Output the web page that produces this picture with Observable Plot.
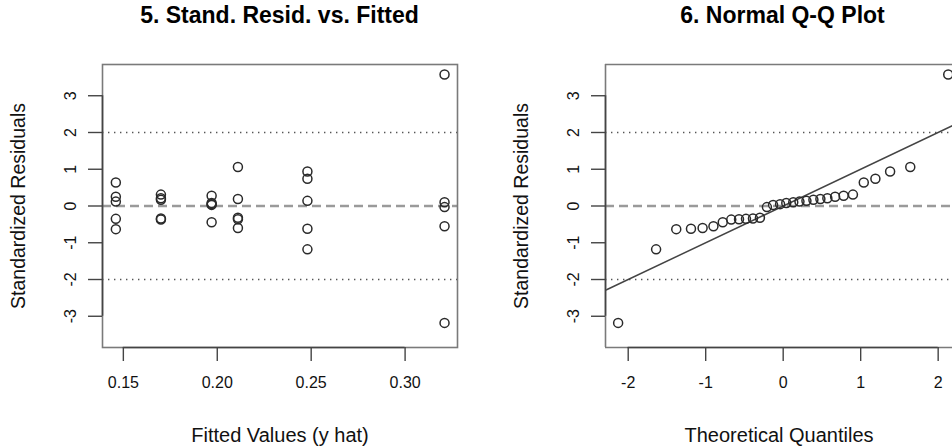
<!DOCTYPE html>
<html><head><meta charset="utf-8">
<script src="https://cdn.jsdelivr.net/npm/d3@7"></script>
<script src="https://cdn.jsdelivr.net/npm/@observablehq/plot@0.6"></script>
<style>
html,body{margin:0;padding:0;background:#fff;overflow:hidden;}
#wrap{display:flex;width:952px;height:447px;overflow:hidden;font-family:"Liberation Sans",Arial,Helvetica,sans-serif;}
.col{position:relative;width:476px;height:447px;overflow:hidden;flex:none;}
.title{position:absolute;top:0;height:30px;line-height:30px;font-weight:bold;font-size:23px;color:#000;white-space:nowrap;transform:translateX(-50%);}
.col svg{position:absolute;left:0;top:30px;}
</style>
</head><body>
<div id="wrap">
  <div class="col" id="left"><div class="title" style="left:279.5px">5. Stand. Resid. vs. Fitted</div></div>
  <div class="col" id="right"><div class="title" style="left:306.5px">6. Normal Q-Q Plot</div></div>
</div>
<script>
// ---- data ----
const fittedValues = [
  0.146,0.146,0.146,0.146,0.146,
  0.170,0.170,0.170,0.170,0.170,
  0.197,0.197,0.197,0.197,0.197,
  0.211,0.211,0.211,0.211,0.211,
  0.248,0.248,0.248,0.248,0.248,
  0.321,0.321,0.321,0.321,0.321
];
const stdResiduals = [
  0.64, 0.25, 0.12, -0.35, -0.63,
  0.31, 0.21, 0.17, -0.34, -0.37,
  0.28, 0.08, 0.05, 0.03, -0.44,
  1.06, 0.19, -0.32, -0.36, -0.60,
  0.94, 0.74, 0.14, -0.62, -1.18,
  3.58, 0.10, -0.03, -0.55, -3.18
];
const theoreticalQuantiles = [
  -2.13,-1.64,-1.38,-1.19,-1.04,-0.90,-0.78,-0.67,-0.57,-0.48,
  -0.39,-0.30,-0.21,-0.13,-0.04, 0.04, 0.13, 0.21, 0.30, 0.39,
   0.48, 0.57, 0.67, 0.78, 0.90, 1.04, 1.19, 1.38, 1.64, 2.13
];
const fittedTicks = [0.15, 0.20, 0.25, 0.30];
const residTicks = [-3, -2, -1, 0, 1, 2, 3];
const quantileTicks = [-2, -1, 0, 1, 2];
const zeroLine = [0];
const limitLines = [-2, 2];
const refIntercept = 0, refSlope = 1;

const residDomain = [-3.85, 3.85];
const fittedDomain = [0.1389, 0.3279];
const quantDomain = [-2.293, 2.185];

const fmt = d => String(d).replace("\u2212", "-");
const frameColor = "#7a7a7a", axisColor = "#444", dotColor = "#2a2a2a";

function panel({xDomain, xTicks, xFmt, xLabel, marginLeft, marginRight, pts, extra, fullFrame}) {
  const H = 417, mTop = 34, mBottom = 100;
  const frameMarks = fullFrame
    ? [Plot.frame({stroke: frameColor, strokeWidth: 1.6})]
    : [Plot.ruleY([residDomain[0], residDomain[1]], {stroke: frameColor, strokeWidth: 1.6}),
       Plot.ruleX([xDomain[0]], {stroke: frameColor, strokeWidth: 1.6})];
  return Plot.plot({
    width: 476, height: H,
    marginLeft, marginRight, marginTop: mTop, marginBottom: mBottom,
    style: {fontFamily: '"Liberation Sans", Arial, sans-serif', fontSize: "16px", color: "#111", background: "transparent", overflow: "visible"},
    x: {domain: xDomain, axis: null},
    y: {domain: residDomain, axis: null},
    marks: [
      Plot.ruleY(zeroLine, {stroke: "#9a9a9a", strokeWidth: 2.6, strokeDasharray: "9,5"}),
      Plot.ruleY(limitLines, {stroke: "#555", strokeWidth: 1.4, strokeDasharray: "1.4,4.6"}),
      ...extra,
      Plot.dot(pts, {x: "x", y: "y", r: 4.5, stroke: dotColor, strokeWidth: 1.5, fill: "none"}),
      ...frameMarks,
      // x axis (R style: ticks outside, line from first to last tick)
      Plot.axisX(xTicks, {tickSize: 14, tickPadding: 15, stroke: axisColor, strokeWidth: 1.4, tickFormat: xFmt, fontSize: 16, label: null}),
      Plot.ruleY([residDomain[0]], {x1: xTicks[0], x2: xTicks[xTicks.length - 1], stroke: axisColor, strokeWidth: 1.6}),
      // y axis
      Plot.axisY(residTicks, {tickSize: 14, stroke: axisColor, strokeWidth: 1.4, tickFormat: () => "", label: null}),
      Plot.ruleX([xDomain[0]], {y1: residTicks[0], y2: residTicks[residTicks.length - 1], stroke: axisColor, strokeWidth: 1.6}),
      Plot.text(residTicks, {y: d => d, text: fmt, frameAnchor: "left", dx: -32, rotate: -90, fontSize: 16, textAnchor: "middle", lineAnchor: "middle", fill: "#111"}),
      // axis titles
      Plot.text([xLabel], {frameAnchor: "bottom", dy: 88, textAnchor: "middle", lineAnchor: "middle", fontSize: 20, fill: "#111"}),
      Plot.text(["Standardized Residuals"], {frameAnchor: "left", dx: -84, rotate: -90, textAnchor: "middle", lineAnchor: "middle", fontSize: 19.5, fill: "#111"})
    ]
  });
}

const leftPts = fittedValues.map((x, i) => ({x, y: stdResiduals[i]}));
document.getElementById("left").appendChild(panel({
  xDomain: fittedDomain, xTicks: fittedTicks, xFmt: d => d.toFixed(2),
  xLabel: "Fitted Values (y hat)", marginLeft: 102, marginRight: 19,
  pts: leftPts, extra: [], fullFrame: true
}));

const sortedResid = d3.sort(stdResiduals);
const qqPts = theoreticalQuantiles.map((x, i) => ({x, y: sortedResid[i]}));
const refLine = quantDomain.map(x => ({x, y: refIntercept + refSlope * x}));
document.getElementById("right").appendChild(panel({
  xDomain: quantDomain, xTicks: quantileTicks, xFmt: d => fmt(d),
  xLabel: "Theoretical Quantiles", marginLeft: 129, marginRight: 0,
  pts: qqPts, fullFrame: false,
  extra: [Plot.line(refLine, {x: "x", y: "y", stroke: "#444", strokeWidth: 1.5, clip: true})]
}));
</script>
</body></html>
